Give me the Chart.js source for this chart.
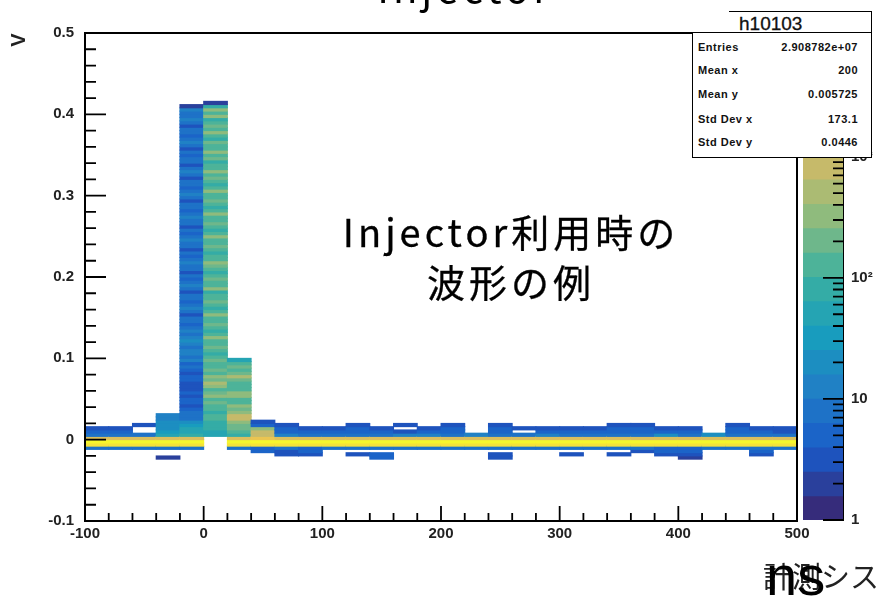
<!DOCTYPE html>
<html><head><meta charset="utf-8">
<script src="https://cdn.jsdelivr.net/npm/chart.js@4.4.1/dist/chart.umd.min.js"></script>
<style>
html,body{margin:0;padding:0;background:#fff;}
#wrap{position:relative;width:877px;height:599px;overflow:hidden;background:#fff;}
canvas{position:absolute;left:0;top:0;}
.t{position:absolute;white-space:nowrap;line-height:1;}
#stTitle{position:absolute;left:729px;top:11px;width:142px;height:22px;border-top:1.5px solid #000;border-right:1.5px solid #000;background:#fff;}
#stTitle span{position:absolute;left:10px;top:2px;font:19px "Liberation Sans",Arial,sans-serif;line-height:20px;color:#111;-webkit-text-stroke:0.3px #111;}
#stats{position:absolute;left:692px;top:32px;width:178px;height:124px;border:1.5px solid #000;background:#fff;}
.row{position:absolute;left:0;width:100%;height:14px;line-height:14px;font:bold 11px "Liberation Sans",Arial,sans-serif;letter-spacing:0.5px;color:#111;}
.row .lab{position:absolute;left:5px;}
.row .val{position:absolute;right:13px;}
</style></head><body>
<div id="wrap">
<canvas id="main" width="877" height="599"></canvas>
<canvas id="cbar" width="877" height="599"></canvas>
<div class="t" style="left:330px;top:-43px;width:270px;text-align:center;font:40px 'Noto Sans CJK JP';letter-spacing:4px;color:#000;">Injector</div>
<div class="t" style="left:7px;top:27px;width:26px;height:26px;line-height:26px;text-align:center;font:bold 20px 'Liberation Sans',Arial,sans-serif;transform:rotate(-90deg);color:#222;">V</div>
<div class="t" style="left:311px;top:203px;width:400px;text-align:center;font:38px 'Noto Sans CJK JP';letter-spacing:4px;color:#000;-webkit-text-stroke:0.3px #000;">Injector利用時の</div>
<div class="t" style="left:311px;top:253px;width:400px;text-align:center;font:38px 'Noto Sans CJK JP';letter-spacing:4px;color:#000;-webkit-text-stroke:0.3px #000;">波形の例</div>
<div class="t" style="left:763px;top:554px;font:29px 'Noto Sans CJK JP';letter-spacing:0px;color:#222;">計測シス</div>
<div class="t" style="left:766px;top:543px;font:56px 'Liberation Sans',Arial,sans-serif;color:#000;">ns</div>
<div id="stTitle"><span>h10103</span></div>
<div id="stats"></div>
</div>
<script>
// ---------------- data ----------------
const histName = "h10103";
const statsLabels = ["Entries", "Mean x", "Mean y", "Std Dev x", "Std Dev y"];
const statsValues = ["2.908782e+07", "200", "0.005725", "173.1", "0.0446"];

// x bins: 20 ns wide, centres
const xBinCenters = [-90,-70,-50,-30,-10,10,30,50,70,90,110,130,150,170,190,210,230,250,270,290,310,330,350,370,390,410,430,450,470,490];
const xTickLabels = ["-100","0","100","200","300","400","500"];
const yTickLabels = ["-0.1","0","0.1","0.2","0.3","0.4","0.5"];
const yBinWidth = 0.004;

// counts near the baseline: each row = one x bin, 15 y bins with lower edges -0.028 ... 0.028
const baselineLow = -0.028;
const baselineCounts = [
 [0,0,0,0,8,5540,8830,1370,8,5,3,0,0,0,0],
 [0,0,0,0,8,5540,8830,1370,8,5,3,0,0,0,0],
 [0,0,0,0,8,5540,8830,1370,8,0,0,3,0,0,0],
 [0,2,0,0,8,5540,8830,1370,53,33,21,21,21,13,13],
 [0,0,0,0,8,5540,8830,1370,84,53,53,33,21,8,8],
 [0,0,0,0,0,0,0,0,53,53,84,84,84,133,133],
 [0,0,0,0,8,5540,8830,1370,84,133,213,213,340,860,860],
 [0,0,0,5,5,5540,8830,2180,860,860,340,5,3,0,0],
 [0,0,3,3,8,5540,8830,1370,13,5,5,3,0,0,0],
 [0,0,3,5,5,5540,8830,1370,8,5,3,0,0,0,0],
 [0,0,0,0,8,5540,8830,1370,8,5,3,0,0,0,0],
 [0,0,3,0,8,5540,8830,1370,8,5,5,3,0,0,0],
 [0,5,5,0,8,5540,8830,1370,8,5,3,0,0,0,0],
 [0,0,0,0,8,5540,8830,1370,13,3,0,3,0,0,0],
 [0,0,0,0,8,5540,8830,1370,13,5,3,0,0,0,0],
 [0,0,0,0,8,5540,8830,1370,8,5,5,3,0,0,0],
 [0,0,0,0,8,5540,8830,1370,13,0,0,0,0,0,0],
 [0,3,3,0,8,5540,8830,1370,8,5,5,3,0,0,0],
 [0,0,0,0,8,5540,8830,1370,8,0,3,0,0,0,0],
 [0,0,0,0,8,5540,8830,1370,13,5,3,0,0,0,0],
 [0,0,3,0,8,5540,8830,1370,8,5,3,0,0,0,0],
 [0,0,0,0,8,5540,8830,1370,8,5,3,0,0,0,0],
 [0,0,3,0,8,5540,8830,1370,8,5,5,3,0,0,0],
 [0,0,0,3,8,5540,8830,1370,8,5,5,3,0,0,0],
 [0,0,3,5,5,5540,8830,1370,21,5,3,0,0,0,0],
 [0,2,3,5,5,5540,8830,1370,8,5,3,0,0,0,0],
 [0,0,0,0,8,5540,8830,1370,21,0,0,0,0,0,0],
 [0,0,0,0,8,5540,8830,1370,8,5,5,3,0,0,0],
 [0,0,3,5,8,5540,8830,1370,8,5,3,0,0,0,0],
 [0,0,0,0,8,5540,8830,1370,8,3,3,0,0,0,0]
];

// pulse columns above the baseline, y bins from 0.032 upward
const spikeLow = 0.032;
const spikeX = [-10, 10, 30];
const spikeCountsM10 = [8,5,3,5,5,3,5,3,3,3,5,5,3,5,8,5,
 13,8,13,13,8,13,21,13,8,13,
 8,5,8,8,3,8,13,8,5,8,8,3,8,13,8,5,8,3,8,8,
 13,8,5,8,3,8,8,13,8,5,8,3,8,8,13,8,5,8,8,3,8,13,8,5,8,
 8,3,8,13,8,3,8,8,5,8,3,8,13,8,5,8,8,3,8,13,8,8,13,2];
const spikeCounts10 = [84,133,133,213,133,340,213,133,340,540,213,340,133,213,133,133,
 213,133,84,133,213,133,133,340,133,84,133,213,133,133,340,133,84,133,213,133,
 133,84,340,133,133,213,133,84,133,213,340,133,133,84,133,213,133,133,340,133,
 84,133,213,133,133,340,133,84,133,213,133,133,340,133,84,133,213,133,340,133,
 133,84,213,133,340,133,133,213,84,133,340,133,213,133,84,340,133,340,84,2];
const spikeCounts30 = [340,213,340,133,133,340,340,133,133,133,213,540,213,133,213,133,53];
const spikeCounts = [spikeCountsM10, spikeCounts10, spikeCounts30];

// z (colour) axis
const zMin = 1, zMax = 10500, nContours = 20;
const zTickLabels = {0:"1", 1:"10", 2:"10\u00B2", 3:"10\u00B3"};

// ---------------- palette (ROOT kBird, slightly muted like the print) ----------------
const birdStops = [0,0.125,0.25,0.375,0.5,0.625,0.75,0.875,1];
const birdR = [0.2082,0.0592,0.0780,0.0232,0.1802,0.5301,0.8186,0.9956,0.9764];
const birdG = [0.1664,0.3599,0.5041,0.6419,0.7178,0.7492,0.7328,0.7862,0.9832];
const birdB = [0.5293,0.8684,0.8385,0.7914,0.6425,0.4662,0.3499,0.1968,0.0539];
const mute = 0.15;
function bird(f){
  f = Math.max(0, Math.min(1, f));
  let i = 0; while (i < birdStops.length - 2 && f > birdStops[i+1]) i++;
  const t = (f - birdStops[i]) / (birdStops[i+1] - birdStops[i]);
  const r = birdR[i] + t * (birdR[i+1] - birdR[i]);
  const g = birdG[i] + t * (birdG[i+1] - birdG[i]);
  const b = birdB[i] + t * (birdB[i+1] - birdB[i]);
  const l = 0.299 * r + 0.587 * g + 0.114 * b;
  const c = v => Math.round(255 * ((1 - mute) * v + mute * l));
  return `rgb(${c(r)},${c(g)},${c(b)})`;
}
const logSpan = Math.log10(zMax / zMin);
function levelOf(c){ return Math.max(0, Math.min(nContours-1, Math.floor(nContours * Math.log10(c / zMin) / logSpan))); }
function colorOfCount(c){ return bird(levelOf(c) / (nContours - 1)); }

// ---------------- build cells ----------------
const cells = [], cellColors = [];
function addCell(x, lo, c){
  if (c <= 0) return;
  cells.push({x: x, y: [lo, lo + yBinWidth]});
  cellColors.push(colorOfCount(c));
}
xBinCenters.forEach((x, i) => {
  baselineCounts[i].forEach((c, k) => addCell(x, baselineLow + k * yBinWidth, c));
});
spikeX.forEach((x, s) => {
  spikeCounts[s].forEach((c, j) => addCell(x, spikeLow + j * yBinWidth, c));
});

// ---------------- plugins ----------------
const FONT = {family: "'Liberation Sans', Arial, sans-serif", size: 15, weight: 'bold'};
const framePlugin = {
  id: 'frame',
  afterDatasetsDraw(chart){
    const {ctx, chartArea: a, scales: {x, y}} = chart;
    ctx.save();
    ctx.strokeStyle = '#000';
    ctx.lineWidth = 2;
    ctx.strokeRect(a.left, a.top, a.right - a.left, a.bottom - a.top);
    ctx.lineWidth = 1.8;
    ctx.beginPath();
    for (let v = -100; v <= 500; v += 20) {
      const px = x.getPixelForValue(v);
      const len = (v % 100 === 0) ? 15 : 8;
      ctx.moveTo(px, a.bottom); ctx.lineTo(px, a.bottom - len);
    }
    for (let n = 0; n <= 30; n++) {
      const v = -0.1 + 0.02 * n;
      const py = y.getPixelForValue(v);
      const len = (n % 5 === 0) ? 21 : 11;
      ctx.moveTo(a.left, py); ctx.lineTo(a.left + len, py);
    }
    ctx.stroke();
    ctx.restore();
  }
};

new Chart(document.getElementById('main'), {
  type: 'bar',
  data: {datasets: [{
    data: cells, backgroundColor: cellColors, borderWidth: 0,
    barPercentage: 1, categoryPercentage: 1, inflateAmount: 0.5
  }]},
  options: {
    responsive: false, animation: false, devicePixelRatio: 1,
    layout: {padding: {left: 0, top: 33, right: 80, bottom: 38}},
    plugins: {legend: {display: false}, tooltip: {enabled: false}},
    scales: {
      x: {type: 'linear', min: -100, max: 500, offset: false,
          grid: {display: false, drawTicks: false}, border: {display: false},
          ticks: {stepSize: 100, padding: 4, color: '#222', font: FONT, maxRotation: 0, autoSkip: false,
                  callback: (v) => xTickLabels[Math.round((v + 100) / 100)] ?? ''},
          afterFit: s => { s.height = 40; }},
      y: {type: 'linear', min: -0.1, max: 0.5,
          grid: {display: false, drawTicks: false}, border: {display: false},
          ticks: {stepSize: 0.1, padding: 11, color: '#222', font: FONT, autoSkip: false,
                  callback: (v) => yTickLabels[Math.round((v + 0.1) * 10)] ?? ''},
          afterFit: s => { s.width = 85; }}
    }
  },
  plugins: [framePlugin]
});

// ---------------- colour bar ----------------
const bandData = [], bandColors = [];
for (let L = 0; L < nContours; L++) {
  bandData.push({x: 'z', y: [zMin * Math.pow(10, logSpan * L / nContours), zMin * Math.pow(10, logSpan * (L + 1) / nContours)]});
  bandColors.push(bird(L / (nContours - 1)));
}
const cbTicks = {
  id: 'cbticks',
  afterDatasetsDraw(chart){
    const {ctx, chartArea: a, scales: {y}} = chart;
    ctx.save(); ctx.strokeStyle = '#000'; ctx.lineWidth = 1.8; ctx.beginPath();
    for (let d = 0; d <= 4; d++) for (let m = 1; m <= 9; m++) {
      const v = m * Math.pow(10, d);
      if (v > zMax) continue;
      const py = y.getPixelForValue(v);
      const len = m === 1 ? 20 : 10;
      ctx.moveTo(a.right, py); ctx.lineTo(a.right - len, py);
    }
    ctx.stroke(); ctx.restore();
  }
};
new Chart(document.getElementById('cbar'), {
  type: 'bar',
  data: {labels: ['z'], datasets: [{data: bandData, backgroundColor: bandColors, borderWidth: 0,
          barPercentage: 1, categoryPercentage: 1, inflateAmount: 0.5}]},
  options: {
    responsive: false, animation: false, devicePixelRatio: 1,
    layout: {padding: {left: 803, top: 33, right: 0, bottom: 79}},
    plugins: {legend: {display: false}, tooltip: {enabled: false}},
    scales: {
      x: {display: false},
      y: {type: 'logarithmic', position: 'right', min: zMin, max: zMax,
          grid: {display: false, drawTicks: false}, border: {display: true, color: '#000', width: 2},
          ticks: {autoSkip: false, padding: 8, color: '#222', font: FONT,
                  callback: (v) => { const l = Math.log10(v); const n = Math.round(l);
                     return Math.abs(l - n) < 1e-9 ? (zTickLabels[n] ?? '') : ''; }},
          afterFit: s => { s.width = 34; }}
    }
  },
  plugins: [cbTicks]
});

// ---------------- stats box text ----------------
const statsEl = document.getElementById('stats');
const rowCenters = [15, 38, 62, 87, 110];
statsLabels.forEach((lab, i) => {
  const r = document.createElement('div');
  r.className = 'row';
  r.style.top = (rowCenters[i] - 7) + 'px';
  r.innerHTML = `<span class="lab">${lab}</span><span class="val">${statsValues[i]}</span>`;
  statsEl.appendChild(r);
});
</script>
</body></html>
